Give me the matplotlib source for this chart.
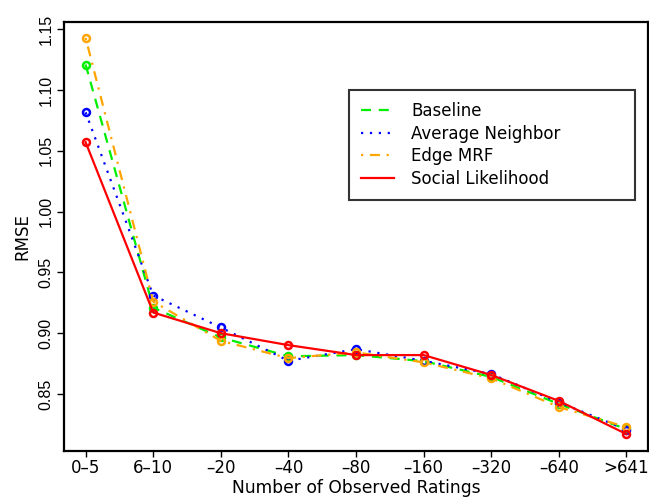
import matplotlib
matplotlib.use("Agg")
import matplotlib.pyplot as plt

plt.rcParams['font.family'] = ['DejaVu Sans']

categories = ["0\u20135", "6\u201310", "\u201320", "\u201340", "\u201380",
              "\u2013160", "\u2013320", "\u2013640", ">641"]
baseline = [1.121, 0.921, 0.8965, 0.881, 0.882, 0.877, 0.864, 0.8418, 0.821]
avg_neighbor = [1.0817, 0.931, 0.9047, 0.8773, 0.8869, 0.8773, 0.8664, 0.8432, 0.8207]
edge_mrf = [1.1429, 0.926, 0.8937, 0.8795, 0.8842, 0.876, 0.8629, 0.8393, 0.8227]
social = [1.0571, 0.917, 0.900, 0.8902, 0.882, 0.882, 0.8656, 0.8443, 0.817]
yticks = [0.85, 0.90, 0.95, 1.00, 1.05, 1.10, 1.15]

x = list(range(1, len(categories) + 1))

fig = plt.figure(figsize=(6.49, 5.00), dpi=100)
ax = fig.add_axes([64 / 649, 1 - 451 / 500, 583.7 / 649, 429 / 500])

common = dict(marker='o', markersize=5, markerfacecolor='none', markeredgewidth=1.8, linewidth=1.6)
ax.plot(x, baseline, color='#00EE00', linestyle=(0, (4.5, 3.5)), label='Baseline', **common)
ax.plot(x, avg_neighbor, color='#0000FF', linestyle=(0, (1, 3)), label='Average Neighbor', **common)
ax.plot(x, edge_mrf, color='#FFA500', linestyle=(0, (1, 3, 4.5, 3)), label='Edge MRF', **common)
ax.plot(x, social, color='#FF0000', linestyle='-', label='Social Likelihood', **common)

ax.set_xlim(0.68, 9.314)
ax.set_ylim(0.8031, 1.156)
ax.set_xticks(x)
ax.set_xticklabels(categories, fontsize=12)
ax.set_yticks(yticks)
ax.set_yticklabels([f"{v:.2f}" for v in yticks], fontsize=11.5, rotation=90, va='center',
                   family=['Liberation Sans', 'DejaVu Sans'])
ax.tick_params(axis='x', direction='out', length=4.5, width=1.0, pad=1.5)
ax.tick_params(axis='y', direction='out', length=5, width=1.0, pad=2.6)
for s in ax.spines.values():
    s.set_linewidth(1.6)
ax.set_xlabel("Number of Observed Ratings", fontsize=12.3, labelpad=1)
ax.set_ylabel("RMSE", fontsize=12, labelpad=5)

leg = ax.legend(loc='upper left', bbox_to_anchor=(0.4883, 0.590, 0.490, 0.2517), mode='expand',
                fontsize=12, frameon=True, fancybox=False, edgecolor='black', handlelength=2.0,
                handletextpad=1.0, labelspacing=0.28, borderpad=0.72, borderaxespad=0)
leg.get_frame().set_linewidth(1.5)
for h in leg.get_lines():
    h.set_marker('')

fig.savefig("out.png", dpi=100)
